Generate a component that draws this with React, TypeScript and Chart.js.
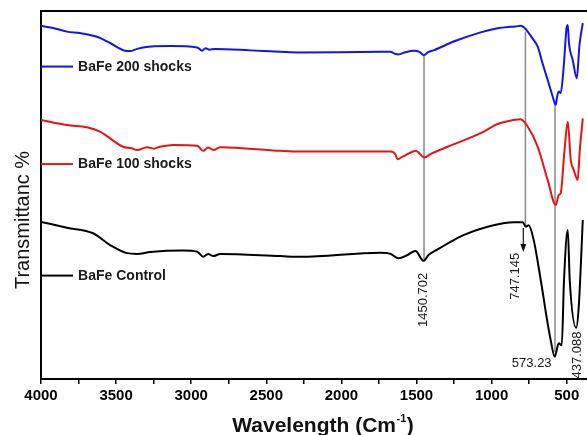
import React, { useEffect, useRef } from 'react';
import { Chart, registerables } from 'chart.js';

Chart.register(...registerables);

const FONT = '"Liberation Sans", Arial, Helvetica, sans-serif';

// Wavenumber (cm-1) and transmittance (arbitrary, offset) for each spectrum
const blueX = [4000, 3900, 3827, 3740, 3627, 3540, 3440, 3407, 3360, 3320, 3140, 2960, 2927, 2905, 2880, 2840, 2607, 2407, 2273, 1740, 1673, 1640, 1620, 1580, 1520, 1480, 1453, 1420, 1387, 1253, 1073, 960, 873, 840, 807, 780, 760, 730, 693, 662, 627, 593, 573, 565, 553, 540, 520, 500, 493, 485, 460, 433, 415, 393];
const blueY = [96.0, 95.2, 94.4, 94.0, 93.0, 91.3, 89.2, 89.1, 89.7, 90.1, 90.5, 90.1, 89.2, 89.9, 89.5, 89.7, 89.3, 88.9, 88.7, 88.9, 88.9, 88.3, 88.2, 88.7, 89.2, 88.9, 88.0, 88.9, 89.3, 91.7, 94.2, 95.3, 95.7, 95.8, 96.0, 95.4, 94.4, 92.7, 90.3, 85.9, 81.3, 76.7, 74.5, 76.5, 78.1, 77.7, 84.9, 95.7, 96.2, 91.3, 86.7, 81.7, 90.8, 96.7];

const redX = [4000, 3827, 3693, 3607, 3453, 3396, 3360, 3293, 3250, 3207, 3120, 2960, 2920, 2887, 2853, 2807, 2407, 2273, 1673, 1640, 1627, 1593, 1550, 1507, 1447, 1407, 1293, 1073, 960, 853, 807, 760, 693, 627, 573, 553, 540, 515, 493, 473, 453, 427, 413, 393];
const redY = [70.4, 69.0, 68.4, 67.2, 63.1, 62.7, 62.2, 63.0, 62.6, 63.1, 63.6, 63.4, 62.0, 62.9, 62.2, 63.0, 62.0, 61.8, 61.8, 61.0, 59.7, 60.4, 61.3, 62.0, 60.2, 61.1, 63.1, 66.8, 69.3, 70.4, 70.6, 68.6, 63.1, 54.1, 47.3, 50.0, 50.5, 62.0, 69.9, 59.5, 56.8, 54.1, 62.2, 70.8];

const blackX = [4000, 3827, 3653, 3540, 3427, 3360, 3273, 3053, 2960, 2920, 2887, 2853, 2807, 2407, 2273, 1740, 1673, 1620, 1560, 1507, 1453, 1420, 1360, 1187, 987, 853, 793, 773, 753, 720, 673, 627, 607, 580, 553, 533, 518, 493, 480, 437, 420, 393];
const blackY = [42.7, 41.1, 39.6, 36.4, 34.2, 34.0, 34.5, 34.9, 34.6, 33.2, 34.0, 33.4, 34.0, 33.4, 33.2, 34.3, 34.0, 32.8, 33.7, 34.8, 32.1, 33.7, 35.2, 39.1, 41.8, 42.6, 42.6, 41.4, 41.8, 37.8, 26.9, 15.1, 10.6, 6.1, 9.7, 9.2, 26.9, 40.5, 26.9, 13.9, 19.6, 43.2];

const seriesLabels = ['BaFe 200 shocks', 'BaFe 100 shocks', 'BaFe Control'];
const seriesColors = ['#1414e6', '#e61414', '#000000'];
const legendY = [84.9, 58.4, 28.1];
const legendLineFrom = 4000;
const legendLineTo = 3787;
const legendTextX = 3753;

// Peak marker lines (gray), arrow and labels
const peakLineX = [1450, 775, 578];
const peakLineTop = [88.0, 94.4, 74.5];
const peakLineBottom = [32.1, 41.8, 7.3];
const arrowX = 789;
const arrowTop = 41.0;
const arrowBottom = 34.5;
const peakLabels = ['1450.702', '747.145', '573.23', '437.088'];
const peakLabelX = [1453, 840, 733, 429];
const peakLabelY = [21.5, 27.9, 4.3, 6.5];
const peakLabelRotated = [true, true, false, true];

const xMin = 365;
const xMax = 4000;
const xStep = 250;
const xLabelStep = 500;

const toPoints = (xs: number[], ys: number[]) => xs.map((x, i) => ({ x, y: ys[i] }));

const decorPlugin = {
  id: 'decor',
  beforeDatasetsDraw(chart: any) {
    const { ctx, scales } = chart;
    const xs = scales.x;
    const ys = scales.y;
    ctx.save();
    ctx.strokeStyle = '#8a8a8a';
    ctx.lineWidth = 1.5;
    peakLineX.forEach((w, i) => {
      const px = xs.getPixelForValue(w);
      ctx.beginPath();
      ctx.moveTo(px, ys.getPixelForValue(peakLineTop[i]));
      ctx.lineTo(px, ys.getPixelForValue(peakLineBottom[i]));
      ctx.stroke();
    });
    ctx.restore();
  },
  afterDraw(chart: any) {
    const { ctx, scales, chartArea } = chart;
    const xs = scales.x;
    const ys = scales.y;
    ctx.save();
    // top frame line
    ctx.strokeStyle = '#000';
    ctx.lineWidth = 2;
    ctx.beginPath();
    ctx.moveTo(chartArea.left - 1, chartArea.top);
    ctx.lineTo(chartArea.right, chartArea.top);
    ctx.stroke();

    // legend entries beside curves
    seriesLabels.forEach((label, i) => {
      const py = ys.getPixelForValue(legendY[i]);
      ctx.strokeStyle = seriesColors[i];
      ctx.lineWidth = 2;
      ctx.beginPath();
      ctx.moveTo(xs.getPixelForValue(legendLineFrom), py);
      ctx.lineTo(xs.getPixelForValue(legendLineTo), py);
      ctx.stroke();
      ctx.fillStyle = '#1a1a1a';
      ctx.font = `bold 14px ${FONT}`;
      ctx.textAlign = 'left';
      ctx.textBaseline = 'middle';
      ctx.fillText(label, xs.getPixelForValue(legendTextX), py + 0.5);
    });

    // arrow
    const ax = xs.getPixelForValue(arrowX);
    const ay1 = ys.getPixelForValue(arrowTop);
    const ay2 = ys.getPixelForValue(arrowBottom);
    ctx.strokeStyle = '#111';
    ctx.fillStyle = '#111';
    ctx.lineWidth = 1.2;
    ctx.beginPath();
    ctx.moveTo(ax, ay1);
    ctx.lineTo(ax, ay2 - 6);
    ctx.stroke();
    ctx.beginPath();
    ctx.moveTo(ax - 3, ay2 - 8);
    ctx.lineTo(ax + 3, ay2 - 8);
    ctx.lineTo(ax, ay2);
    ctx.closePath();
    ctx.fill();

    // peak labels
    ctx.fillStyle = '#1a1a1a';
    ctx.font = `13px ${FONT}`;
    ctx.textAlign = 'center';
    ctx.textBaseline = 'middle';
    peakLabels.forEach((t, i) => {
      const px = xs.getPixelForValue(peakLabelX[i]);
      const py = ys.getPixelForValue(peakLabelY[i]);
      ctx.save();
      ctx.translate(px, py);
      if (peakLabelRotated[i]) ctx.rotate(-Math.PI / 2);
      ctx.fillText(t, 0, 0);
      ctx.restore();
    });

    // y title
    ctx.save();
    ctx.translate(23, 220);
    ctx.rotate(-Math.PI / 2);
    ctx.fillStyle = '#111';
    ctx.font = `20px ${FONT}`;
    ctx.textAlign = 'center';
    ctx.textBaseline = 'middle';
    ctx.fillText('Transmittanc %', 0, 0);
    ctx.restore();

    // x title with superscript
    const main = 'Wavelength (Cm';
    const sup = '-1';
    const end = ')';
    const baseY = 432;
    ctx.fillStyle = '#111';
    ctx.textBaseline = 'alphabetic';
    ctx.textAlign = 'left';
    ctx.font = `bold 21px ${FONT}`;
    const wMain = ctx.measureText(main).width;
    const wEnd = ctx.measureText(end).width;
    ctx.font = `bold 11px ${FONT}`;
    const wSup = ctx.measureText(sup).width;
    const total = wMain + wSup + wEnd + 1;
    const x0 = 323 - total / 2;
    ctx.font = `bold 21px ${FONT}`;
    ctx.fillText(main, x0, baseY);
    ctx.font = `bold 11px ${FONT}`;
    ctx.fillText(sup, x0 + wMain + 0.5, baseY - 10);
    ctx.font = `bold 21px ${FONT}`;
    ctx.fillText(end, x0 + wMain + wSup + 1, baseY);
    ctx.restore();
  },
};

export default function App() {
  const ref = useRef<HTMLCanvasElement | null>(null);
  useEffect(() => {
    document.body.style.margin = '0';
    const canvas = ref.current;
    if (!canvas) return;
    const chart = new Chart(canvas, {
      type: 'line',
      data: {
        datasets: [
          { label: seriesLabels[0], data: toPoints(blueX, blueY), borderColor: seriesColors[0], borderWidth: 2, pointRadius: 0, cubicInterpolationMode: 'monotone', fill: false },
          { label: seriesLabels[1], data: toPoints(redX, redY), borderColor: seriesColors[1], borderWidth: 2, pointRadius: 0, cubicInterpolationMode: 'monotone', fill: false },
          { label: seriesLabels[2], data: toPoints(blackX, blackY), borderColor: seriesColors[2], borderWidth: 2, pointRadius: 0, cubicInterpolationMode: 'monotone', fill: false },
        ],
      },
      options: {
        animation: false,
        responsive: false,
        devicePixelRatio: 1,
        layout: { padding: { top: 11, left: 0, right: 0, bottom: 0 } },
        plugins: { legend: { display: false }, tooltip: { enabled: false } },
        scales: {
          x: {
            type: 'linear',
            reverse: true,
            min: xMin,
            max: xMax,
            afterFit: (s: any) => { s.height = 56; },
            border: { display: true, color: '#000', width: 2 },
            grid: { display: true, drawOnChartArea: false, drawTicks: true, tickLength: 5, color: '#000', lineWidth: 1.5 },
            ticks: {
              stepSize: xStep,
              autoSkip: false,
              maxRotation: 0,
              includeBounds: false,
              padding: 3,
              color: '#000',
              font: { family: FONT, size: 15, weight: 'bold' },
              callback: (v: any) => (Number(v) % xLabelStep === 0 ? String(v) : ''),
            },
          },
          y: {
            min: 0,
            max: 100,
            afterFit: (s: any) => { s.width = 41; },
            ticks: { display: false },
            grid: { display: false, drawTicks: false },
            border: { display: true, color: '#000', width: 2 },
          },
        },
      },
      plugins: [decorPlugin],
    } as any);
    return () => chart.destroy();
  }, []);
  return <canvas ref={ref} width={587} height={435} style={{ display: 'block' }} />;
}
